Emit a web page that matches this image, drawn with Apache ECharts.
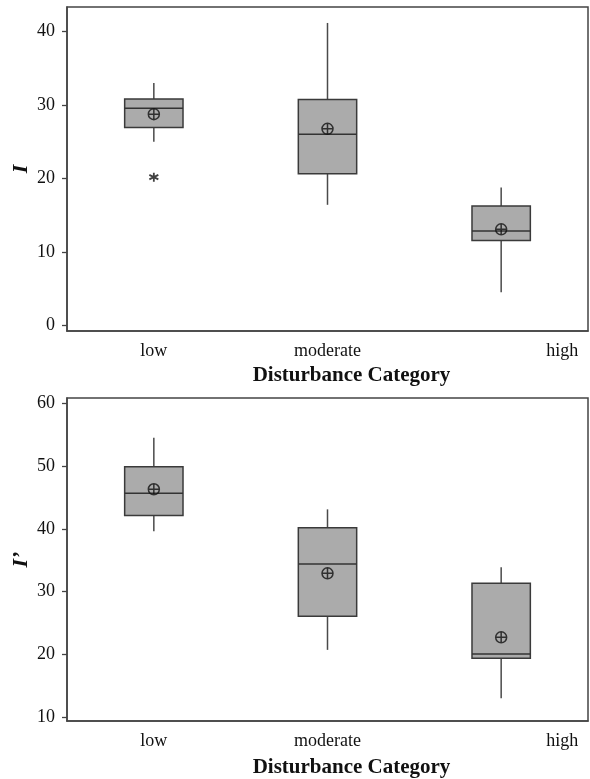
<!DOCTYPE html>
<html>
<head>
<meta charset="utf-8">
<script src="https://cdn.jsdelivr.net/npm/echarts@6/dist/echarts.min.js"></script>
<style>
html,body{margin:0;padding:0;background:#fff;}
#c{width:590px;height:779px;}
</style>
</head>
<body>
<div id="c"></div>
<script>
const categories = ['low', 'moderate', 'high'];
// [min whisker, Q1, median, Q3, max whisker]
const iBox = [[25.0, 26.96, 29.58, 30.84, 33.0], [16.44, 20.65, 26.05, 30.76, 41.17], [4.54, 11.6, 12.87, 16.27, 18.8]];
const iMean = [28.77, 26.77, 13.1];
const iOutliers = [[0, 20.2]];
const ipBox = [[39.6, 42.1, 45.65, 49.9, 54.5], [20.7, 26.05, 34.4, 40.17, 43.1], [13.0, 19.36, 20.04, 31.3, 33.86]];
const ipMean = [46.3, 32.9, 22.7];
const iTicks = [0, 10, 20, 30, 40];
const ipTicks = [10, 20, 30, 40, 50, 60];
const xTitle = 'Disturbance Category';

const SERIF = '"Liberation Serif", "Times New Roman", serif';
const LINE = '#3a3a3a';
const TXT = '#111';

function renderBox(params, api) {
  const x = api.value(0);
  const lo = api.coord([x, api.value(1)]);
  const q1 = api.coord([x, api.value(2)]);
  const med = api.coord([x, api.value(3)]);
  const q3 = api.coord([x, api.value(4)]);
  const hi = api.coord([x, api.value(5)]);
  const band = api.size([1, 0])[0];
  const w = band * 0.336;
  const cx = lo[0];
  const ls = {stroke: '#4a4a4a', lineWidth: 1.5};
  return {
    type: 'group',
    children: [
      {type: 'line', shape: {x1: cx, y1: hi[1], x2: cx, y2: q3[1]}, style: ls},
      {type: 'line', shape: {x1: cx, y1: q1[1], x2: cx, y2: lo[1]}, style: ls},
      {type: 'rect', shape: {x: cx - w / 2, y: q3[1], width: w, height: q1[1] - q3[1]},
        style: {fill: '#ababab', stroke: LINE, lineWidth: 1.5}},
      {type: 'line', shape: {x1: cx - w / 2, y1: med[1], x2: cx + w / 2, y2: med[1]},
        style: {stroke: '#333', lineWidth: 1.5}}
    ]
  };
}

const meanSymbol = 'path://M0,5A5,5,0,1,1,10,5A5,5,0,1,1,0,5ZM0,5L10,5M5,0L5,10';
const starSymbol = 'path://M5,0L5,10M0.7,2.5L9.3,7.5M0.7,7.5L9.3,2.5';

function xAxisCfg(gridIndex, gap) {
  return {
    type: 'category', gridIndex: gridIndex, data: categories,
    boundaryGap: true,
    axisLine: {onZero: false, lineStyle: {color: '#444', width: 1.5}},
    axisTick: {alignWithLabel: true, length: 5, lineStyle: {color: '#444', width: 1.3}},
    axisLabel: {
      interval: 0, margin: 11, color: TXT, fontFamily: SERIF, fontSize: 18,
      formatter: function (v) { return v === 'high' ? '{h|high}' : v; },
      rich: {h: {padding: [0, 0, 0, 122], fontFamily: SERIF, fontSize: 18, color: TXT}}
    },
    name: xTitle, nameLocation: 'middle', nameGap: gap, nameMoveOverlap: false,
    nameTextStyle: {fontFamily: SERIF, fontSize: 21, fontWeight: 'bold', color: '#111', padding: [0, 0, 0, 48]},
    splitLine: {show: false}
  };
}

function yAxisCfg(gridIndex, min, max, ticks, name) {
  return {
    type: 'value', gridIndex: gridIndex, min: min, max: max,
    axisLine: {show: true, lineStyle: {color: '#444', width: 1.5}},
    axisTick: {show: true, length: 5, customValues: ticks, lineStyle: {color: '#444', width: 1.3}},
    axisLabel: {customValues: ticks, margin: 12, color: TXT, fontFamily: SERIF, fontSize: 18},
    splitLine: {show: false},
    name: name, nameLocation: 'middle', nameGap: 35, nameMoveOverlap: false,
    nameTextStyle: {fontFamily: SERIF, fontSize: 22, fontWeight: 'bold', fontStyle: 'italic', color: '#111'}
  };
}

function boxData(arr) { return arr.map(function (b, i) { return [i].concat(b); }); }
function meanData(arr) { return arr.map(function (m, i) { return [i, m]; }); }

const chart = echarts.init(document.getElementById('c'), null, {renderer: 'canvas'});
chart.setOption({
  animation: false,
  backgroundColor: '#fff',
  grid: [
    {left: 67, right: 2, top: 7, height: 324, show: true, borderColor: '#444', borderWidth: 1.5,
      containLabel: false, outerBoundsMode: 'none'},
    {left: 67, right: 2, top: 398, height: 323, show: true, borderColor: '#444', borderWidth: 1.5,
      containLabel: false, outerBoundsMode: 'none'}
  ],
  xAxis: [xAxisCfg(0, 34), xAxisCfg(1, 36)],
  yAxis: [yAxisCfg(0, -0.72, 43.34, iTicks, 'I'), yAxisCfg(1, 9.36, 60.85, ipTicks, 'I’')],
  series: [
    {type: 'custom', xAxisIndex: 0, yAxisIndex: 0, renderItem: renderBox, data: boxData(iBox),
      encode: {x: 0, y: [1, 2, 3, 4, 5]}, z: 2},
    {type: 'scatter', xAxisIndex: 0, yAxisIndex: 0, data: meanData(iMean), symbol: meanSymbol, symbolSize: 11,
      itemStyle: {color: 'rgba(0,0,0,0)', borderColor: '#111', borderWidth: 1.5}, z: 5},
    {type: 'scatter', xAxisIndex: 0, yAxisIndex: 0, data: iOutliers, symbol: starSymbol, symbolSize: 9,
      itemStyle: {color: 'rgba(0,0,0,0)', borderColor: '#111', borderWidth: 1.8}, z: 5},
    {type: 'custom', xAxisIndex: 1, yAxisIndex: 1, renderItem: renderBox, data: boxData(ipBox),
      encode: {x: 0, y: [1, 2, 3, 4, 5]}, z: 2},
    {type: 'scatter', xAxisIndex: 1, yAxisIndex: 1, data: meanData(ipMean), symbol: meanSymbol, symbolSize: 11,
      itemStyle: {color: 'rgba(0,0,0,0)', borderColor: '#111', borderWidth: 1.5}, z: 5}
  ]
});
</script>
</body>
</html>
